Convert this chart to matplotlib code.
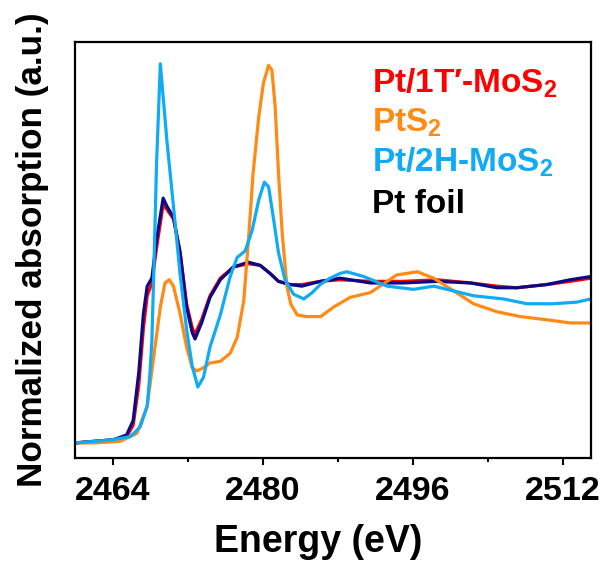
import matplotlib
matplotlib.use("Agg")
import matplotlib.pyplot as plt
from matplotlib.ticker import MultipleLocator

plt.rcParams['font.family'] = ['Liberation Sans', 'DejaVu Sans']
plt.rcParams['font.weight'] = 'bold'
plt.rcParams['mathtext.default'] = 'regular'

# Pt foil
e_foil = [2460.0, 2462.0, 2464.1, 2465.5, 2466.2, 2466.8, 2467.3, 2467.7, 2468.2, 2468.7,
          2469.4, 2469.8, 2470.5, 2471.2, 2471.9, 2472.5, 2472.8, 2473.5, 2474.4, 2475.5,
          2476.9, 2478.5, 2479.75, 2480.8, 2481.7, 2482.95, 2484.2, 2486.15, 2488.3, 2491.5,
          2495.0, 2498.6, 2502.2, 2505.0, 2507.1, 2510.3, 2512.8, 2515.0]
mu_foil = [0.00, 0.01, 0.02, 0.05, 0.14, 0.44, 0.81, 0.98, 1.03, 1.27,
           1.53, 1.48, 1.41, 1.19, 0.85, 0.69, 0.65, 0.75, 0.91, 1.02,
           1.10, 1.13, 1.11, 1.06, 1.01, 0.99, 0.98, 1.01, 1.03, 1.00,
           1.00, 1.01, 1.00, 0.97, 0.97, 0.99, 1.02, 1.04]

# Pt/1T'-MoS2
e_1t = e_foil
mu_1t = [0.00, 0.01, 0.02, 0.04, 0.11, 0.36, 0.72, 0.92, 1.00, 1.22,
         1.49, 1.46, 1.40, 1.20, 0.87, 0.72, 0.68, 0.77, 0.92, 1.03,
         1.10, 1.12, 1.11, 1.06, 1.01, 0.99, 0.99, 1.01, 1.02, 1.01,
         1.01, 1.02, 1.00, 0.98, 0.97, 0.99, 1.01, 1.03]

# Pt/2H-MoS2
e_2h = [2460.0, 2462.0, 2464.0, 2465.9, 2466.95, 2467.7, 2468.0, 2468.2, 2468.4, 2468.7,
        2469.1, 2469.8, 2470.5, 2471.2, 2471.9, 2472.5, 2473.1, 2473.7, 2474.4, 2475.5,
        2476.55, 2477.3, 2478.15, 2478.9, 2479.6, 2480.2, 2480.65, 2481.2, 2481.7, 2482.4,
        2483.3, 2484.4, 2485.3, 2486.15, 2487.2, 2488.3, 2489.0, 2490.8, 2493.3, 2496.1,
        2498.25, 2500.4, 2502.5, 2505.7, 2508.2, 2511.0, 2513.5, 2515.0]
mu_2h = [0.00, 0.01, 0.02, 0.04, 0.10, 0.23, 0.44, 0.64, 1.06, 1.75,
         2.37, 1.89, 1.48, 1.06, 0.71, 0.48, 0.35, 0.41, 0.60, 0.80,
         1.04, 1.16, 1.20, 1.33, 1.52, 1.63, 1.60, 1.39, 1.19, 1.02,
         0.93, 0.90, 0.94, 0.99, 1.03, 1.06, 1.07, 1.04, 0.98, 0.96,
         0.98, 0.95, 0.92, 0.90, 0.87, 0.87, 0.88, 0.90]

# PtS2
e_pts2 = [2460.0, 2462.0, 2464.8, 2466.6, 2467.7, 2468.4, 2469.1, 2469.6, 2470.05, 2470.5,
          2471.2, 2471.9, 2472.5, 2473.0, 2473.7, 2474.4, 2475.5, 2476.55, 2477.3, 2478.0,
          2478.5, 2479.0, 2479.6, 2480.1, 2480.65, 2481.0, 2481.35, 2481.7, 2482.1, 2482.6,
          2483.0, 2483.7, 2484.7, 2486.2, 2487.6, 2489.35, 2491.5, 2493.3, 2494.3, 2496.5,
          2498.25, 2500.4, 2502.5, 2505.0, 2507.5, 2510.3, 2512.8, 2515.0]
mu_pts2 = [0.00, 0.00, 0.01, 0.06, 0.23, 0.54, 0.85, 1.00, 1.02, 0.98,
           0.81, 0.60, 0.47, 0.45, 0.47, 0.50, 0.51, 0.56, 0.66, 0.89,
           1.27, 1.69, 2.04, 2.25, 2.36, 2.33, 2.10, 1.69, 1.31, 0.98,
           0.87, 0.80, 0.79, 0.79, 0.85, 0.91, 0.94, 1.01, 1.05, 1.07,
           1.03, 0.95, 0.87, 0.82, 0.79, 0.77, 0.75, 0.75]

labels = ["Pt/1T\u2032-MoS$_2$", "PtS$_2$", "Pt/2H-MoS$_2$", "Pt foil"]
label_colors = ["#ff0000", "#ff8a14", "#10aaf5", "#000000"]

fig = plt.figure(figsize=(6.03, 5.63), dpi=100)
ax = fig.add_axes([75 / 603, 105 / 563, 515.7 / 603, 416 / 563])

style = dict(lw=2.3, solid_joinstyle='round', solid_capstyle='round')
ax.plot(e_1t, mu_1t, color="#ff0000", **style)
ax.plot(e_foil, mu_foil, color="#0a0a88", **style)
ax.plot(e_pts2, mu_pts2, color="#ff8a14", **style)
ax.plot(e_2h, mu_2h, color="#10aaf5", **style)

ax.set_xlim(2460, 2515)
ax.set_ylim(-0.094, 2.506)
ax.xaxis.set_minor_locator(MultipleLocator(8))
ax.set_xticks([2464, 2480, 2496, 2512])
ax.set_yticks([])
ax.tick_params(axis='x', which='major', direction='out', length=5, width=1.5,
               labelsize=24.5, pad=8)
ax.tick_params(axis='x', which='minor', direction='out', length=3, width=1.5)
for lab in ax.get_xticklabels():
    lab.set_fontweight('bold')
for sp in ax.spines.values():
    sp.set_linewidth(1.6)

fig.text(318 / 603, 11 / 563, "Energy (eV)", ha='center', va='baseline',
         fontsize=27, fontweight='bold')
fig.text(42 / 603, 313 / 563, "Normalized absorption (a.u.)", rotation=90,
         rotation_mode='anchor', ha='center', va='baseline',
         fontsize=25.3, fontweight='bold')

baselines = [93, 131.7, 171.7, 213]
for txt, col, yb in zip(labels, label_colors, baselines):
    fig.text(371.7 / 603, (563 - yb) / 563, txt, color=col, ha='left',
             va='baseline', fontsize=24, fontweight='bold')

fig.savefig("out.png", dpi=100)
